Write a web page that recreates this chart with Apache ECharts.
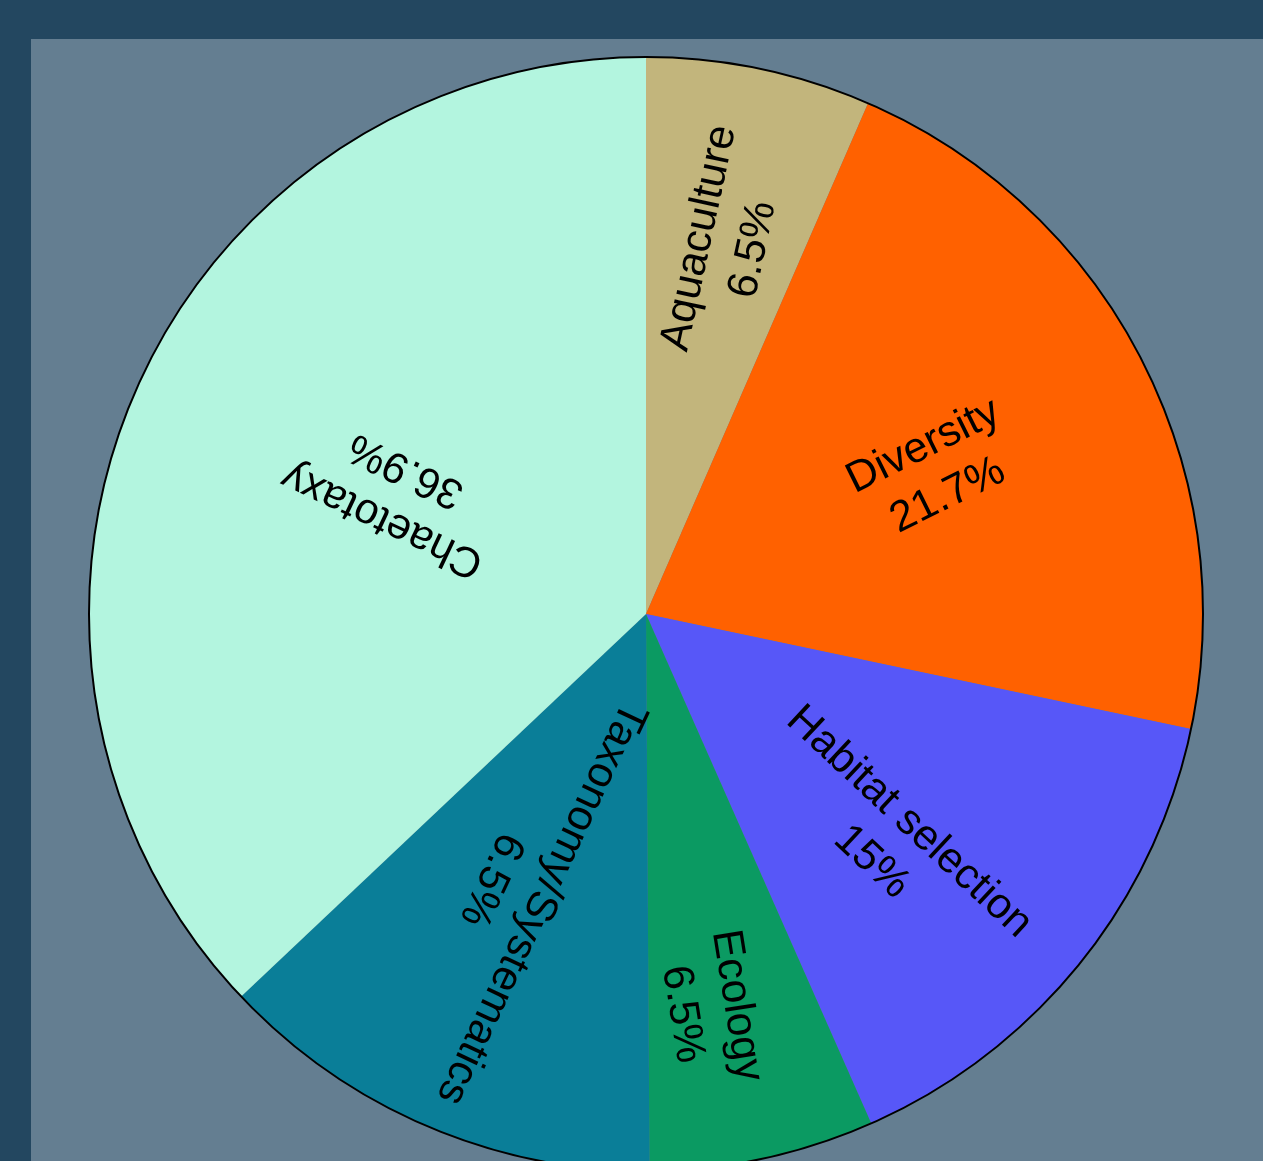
<!DOCTYPE html>
<html><head><meta charset="utf-8">
<script src="https://cdn.jsdelivr.net/npm/echarts@6/dist/echarts.min.js"></script>
<style>
html,body{margin:0;padding:0;background:#234760;width:1263px;height:1161px;overflow:hidden;}
#chart{position:absolute;left:31px;top:39px;width:1232px;height:1122px;background:#647e91;}
</style></head><body><div id="chart"></div>
<script>
const categories = ['Aquaculture', 'Diversity', 'Habitat selection', 'Ecology', 'Taxonomy/Systematics', 'Chaetotaxy'];
const values = [6.5, 21.7, 15, 6.5, 13.0, 36.9];
const percentLabels = ['6.5%', '21.7%', '15%', '6.5%', '6.5%', '36.9%'];
const sliceColors = ['#c2b57c', '#ff6100', '#5757f8', '#0b9a62', '#0a7e98', '#b3f5df'];
// label placement (layout only): radial fraction and small angular shift in degrees
const labelRadius = [0.68, 0.58, 0.60, 0.72, 0.55, 0.50];
const labelAngleShift = [0.5, 1, 4, 3, 2, 2];

const CX = 615, CY = 575, R = 557;
const total = values.reduce((a, b) => a + b, 0);
let cum = 0;
const midDeg = values.map(v => { const m = (cum + v / 2) / total * 360; cum += v; return m; });
const labelDeg = midDeg.map((m, i) => m + labelAngleShift[i]);

const chart = echarts.init(document.getElementById('chart'));
chart.setOption({
  backgroundColor: 'transparent',
  animation: false,
  series: [
    {
      type: 'pie', center: [CX, CY], radius: [0, R], startAngle: 90, clockwise: true,
      avoidLabelOverlap: false, silent: true,
      data: categories.map((c, i) => ({
        name: c, value: values[i],
        itemStyle: { color: sliceColors[i] },
        label: { rotate: 90 - labelDeg[i] }
      })),
      itemStyle: { borderWidth: 0 },
      label: {
        show: true, position: 'inside',
        formatter: p => p.name + '\n' + percentLabels[p.dataIndex],
        color: '#000', fontFamily: 'Liberation Sans, Arial, sans-serif',
        fontSize: 43, lineHeight: 55, align: 'center', verticalAlign: 'middle'
      },
      labelLine: { show: false },
      labelLayout: p => {
        const i = p.dataIndex;
        const a = labelDeg[i] * Math.PI / 180;
        const r = labelRadius[i] * R;
        return { x: CX + r * Math.sin(a), y: CY - r * Math.cos(a), rotate: 90 - labelDeg[i], align: 'center', verticalAlign: 'middle' };
      },
      emphasis: { disabled: true }
    },
    {
      type: 'pie', center: [CX, CY], radius: [0, R], silent: true,
      data: [{ value: 1, itemStyle: { color: 'rgba(0,0,0,0)', borderColor: '#000', borderWidth: 2 } }],
      label: { show: false }, labelLine: { show: false }, emphasis: { disabled: true }
    }
  ]
});
</script></body></html>
